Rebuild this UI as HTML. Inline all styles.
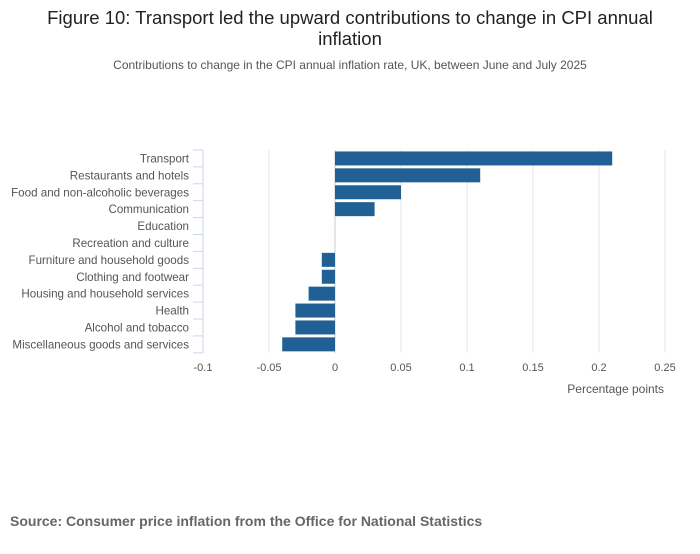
<!DOCTYPE html>
<html><head><meta charset="utf-8"><style>
body{margin:0;background:#fff;font-family:"Liberation Sans","Open Sans",sans-serif;}
svg text{font-family:"Liberation Sans",sans-serif;}
</style></head><body>
<svg width="700" height="549" xmlns="http://www.w3.org/2000/svg">
<text x="350" y="24" text-anchor="middle" font-size="18.5" fill="#222">Figure 10: Transport led the upward contributions to change in CPI annual</text>
<text x="350" y="45" text-anchor="middle" font-size="18.5" fill="#222">inflation</text>
<text x="350" y="69" text-anchor="middle" font-size="12" fill="#555">Contributions to change in the CPI annual inflation rate, UK, between June and July 2025</text>
<g id="grid"></g><g id="bars"></g><g id="axes"></g>
<text x="664" y="393" text-anchor="end" font-size="12" fill="#555">Percentage points</text>
<text x="10" y="526" font-size="14" font-weight="bold" fill="#666">Source: Consumer price inflation from the Office for National Statistics</text>
</svg>
<script>
const categories=["Transport","Restaurants and hotels","Food and non-alcoholic beverages","Communication","Education","Recreation and culture","Furniture and household goods","Clothing and footwear","Housing and household services","Health","Alcohol and tobacco","Miscellaneous goods and services"];
const values=[0.21,0.11,0.05,0.03,0,0,-0.01,-0.01,-0.02,-0.03,-0.03,-0.04];
const ticks=[-0.1,-0.05,0,0.05,0.1,0.15,0.2,0.25];
const tickLabels=["-0.1","-0.05","0","0.05","0.1","0.15","0.2","0.25"];
const NS="http://www.w3.org/2000/svg";
const x0=203,x1=665,y0=150,bandH=16.9;
const xs=v=>x0+(v-ticks[0])/(ticks[ticks.length-1]-ticks[0])*(x1-x0);
function mk(t,a,p){const e=document.createElementNS(NS,t);for(const k in a)e.setAttribute(k,a[k]);p.appendChild(e);return e;}
const grid=document.getElementById('grid'),bars=document.getElementById('bars'),axes=document.getElementById('axes');
const yEnd=y0+bandH*categories.length;
ticks.forEach((t,i)=>{
 const x=xs(t);
 if(i>0){const l=mk('line',{x1:x,x2:x,y1:y0,y2:yEnd,stroke:t===0?'#ccc':'#e6e6e6','stroke-width':1},grid);
 
 }
 const tx=mk('text',{x:x,y:371,'text-anchor':'middle','font-size':11,fill:'#555'},axes);tx.textContent=tickLabels[i];
 
 
});
const ax=mk('line',{x1:x0,x2:x0,y1:y0,y2:yEnd,stroke:'#ccd6eb','stroke-width':1},axes);


for(let i=0;i<=categories.length;i++){
 const y=y0+i*bandH;
 const tk=mk('line',{x1:x0-10,x2:x0,y1:y,y2:y,stroke:'#ccd6eb','stroke-width':1},axes);
 
 
}
categories.forEach((c,i)=>{
 const yc=y0+i*bandH+bandH/2;
 const lb=mk('text',{x:189,y:yc+4,'text-anchor':'end','font-size':11.6,fill:'#555'},axes);lb.textContent=c;
 
 
 const v=values[i];if(v===0)return;
 const a=xs(Math.min(0,v)),b=xs(Math.max(0,v));
 const r=mk('rect',{x:a,y:yc-7,width:b-a,height:14,fill:'#206095'},bars);
 
 
});
</script>
</body></html>
